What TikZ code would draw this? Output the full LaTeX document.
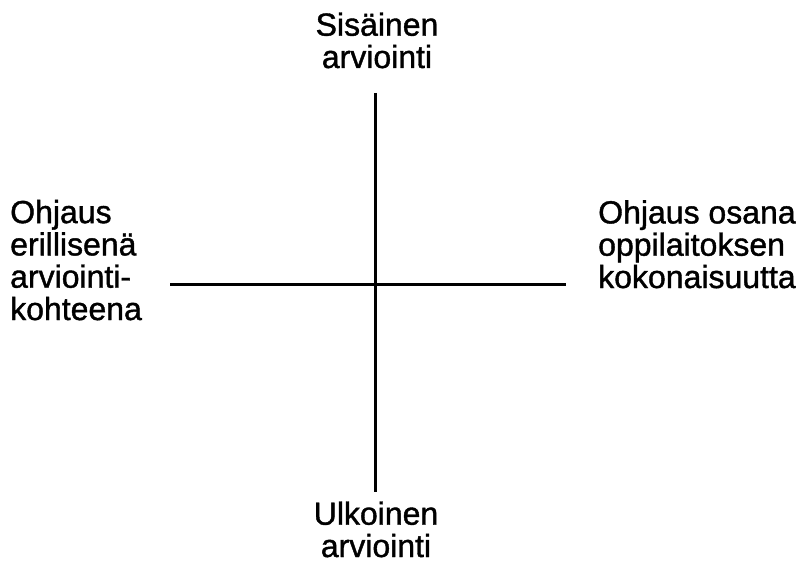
\documentclass[tikz,border=0pt]{standalone}
\usepackage{fontspec}
\setmainfont{Liberation Sans}
\newfontfamily\heavysans{Liberation Sans}[FakeBold=1.2]
\begin{document}
\begin{tikzpicture}[x=1pt,y=-1pt,
  axis/.style={line width=3pt},
  lbl/.style={inner sep=0pt, font=\heavysans\fontsize{32}{32.3}\selectfont}]
\useasboundingbox (0,0) rectangle (799,567);
% axes
\coordinate (top) at (375,93);
\coordinate (bot) at (375,492);
\coordinate (lft) at (170,284);
\coordinate (rgt) at (566,284);
\draw[axis] (top) -- (bot);
\draw[axis] (lft) -- (rgt);
% end labels (base anchor sits on the last line)
\node[lbl, align=center, anchor=base] (n) at (377,68) {Sisäinen\\arviointi};
\node[lbl, align=center, anchor=base] (s) at (376,557) {Ulkoinen\\arviointi};
\node[lbl, align=left, anchor=base west] (w) at (10,320) {Ohjaus\\erillisenä\\arviointi-\\kohteena};
\node[lbl, align=left, anchor=base west] (e) at (598,288) {Ohjaus osana\\oppilaitoksen\\kokonaisuutta};
\end{tikzpicture}
\end{document}
